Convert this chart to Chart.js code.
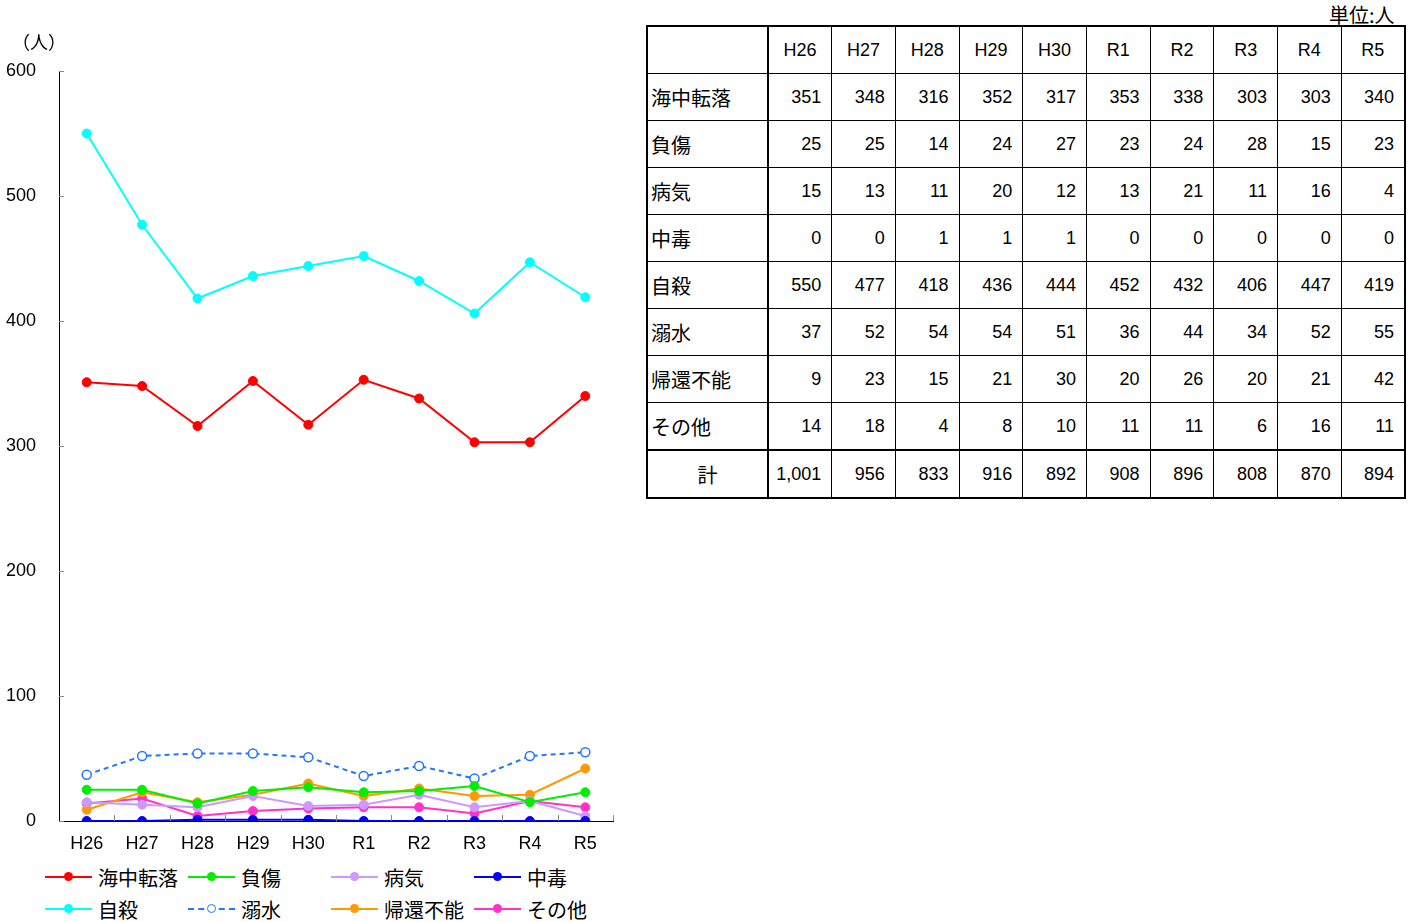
<!DOCTYPE html>
<html>
<head>
<meta charset="utf-8">
<script src="https://cdn.jsdelivr.net/npm/chart.js@4/dist/chart.umd.min.js"></script>
<style>
  body { margin: 0; background: #fff; font-family: "Liberation Sans", Arial, sans-serif; }
  #wrap { position: relative; width: 1415px; height: 922px; overflow: hidden; }
  #chartBox { position: absolute; left: 0; top: 0; width: 640px; height: 860px; }
  #unitY { position: absolute; left: 12px; top: 28px; font: 18px "Noto Sans CJK JP", sans-serif; }
  #unitT { position: absolute; left: 1329px; top: 0px; font: 20px "Noto Sans CJK JP", sans-serif; }
  #legend { position: absolute; left: 45px; top: 862px; width: 600px; }
  .lg { position: absolute; height: 30px; display: flex; align-items: center; font: 20px "Noto Sans CJK JP", sans-serif; }
  .lg .sw { position: relative; width: 47px; height: 10px; margin-right: 6px; }
  .lg .ln { position: absolute; left: 0; right: 0; top: 4px; height: 0; border-top: 2px solid; }
  .lg .dt { position: absolute; left: 19px; top: 0; width: 9px; height: 9px; border-radius: 50%; box-sizing: border-box; }
  table { position: absolute; left: 646px; top: 25px; width: 760px; table-layout: fixed; border-collapse: collapse; border: 2px solid #000; }
  td { border: 1px solid #000; height: 46px; padding: 0; font: 18px "Liberation Sans", Arial, sans-serif; text-align: right; padding-right: 10px; }
  td.h { text-align: center; padding-right: 0; }
  td.n { text-align: left; padding-left: 3px; padding-right: 0; border-right: 2px solid #000; font: 20px "Noto Sans CJK JP", sans-serif; }
  tr.tot td { border-top: 2px solid #000; }
  tr.tot td.n { text-align: center; padding-left: 0; }
</style>
</head>
<body>
<div id="wrap">
  <div id="chartBox"><canvas id="c"></canvas></div>
  <div id="unitY">（人）</div>
  <div id="unitT">単位:人</div>
  <div id="legend"></div>
  <table id="tbl"></table>
</div>
<script>
// years on the x axis and in the table header
const years = ['H26', 'H27', 'H28', 'H29', 'H30', 'R1', 'R2', 'R3', 'R4', 'R5'];

const kaichuTenraku = [351, 348, 316, 352, 317, 353, 338, 303, 303, 340];
const fusho = [25, 25, 14, 24, 27, 23, 24, 28, 15, 23];
const byoki = [15, 13, 11, 20, 12, 13, 21, 11, 16, 4];
const chudoku = [0, 0, 1, 1, 1, 0, 0, 0, 0, 0];
const jisatsu = [550, 477, 418, 436, 444, 452, 432, 406, 447, 419];
const dekisui = [37, 52, 54, 54, 51, 36, 44, 34, 52, 55];
const kikanFuno = [9, 23, 15, 21, 30, 20, 26, 20, 21, 42];
const sonota = [14, 18, 4, 8, 10, 11, 11, 6, 16, 11];
const totals = ['1,001', '956', '833', '916', '892', '908', '896', '808', '870', '894'];

const yTicks = [0, 100, 200, 300, 400, 500, 600];

const series = [
  { label: '海中転落', data: kaichuTenraku, color: '#ff0000' },
  { label: '負傷', data: fusho, color: '#00ee00' },
  { label: '病気', data: byoki, color: '#cc99ff' },
  { label: '中毒', data: chudoku, color: '#0000ff', top: true },
  { label: '自殺', data: jisatsu, color: '#00ffff' },
  { label: '溺水', data: dekisui, color: '#2277ff', dashed: true },
  { label: '帰還不能', data: kikanFuno, color: '#ff9900' },
  { label: 'その他', data: sonota, color: '#ff33cc' }
];

// small inner tick marks like the original (y ticks point right, x ticks point up)
const innerTicks = {
  id: 'innerTicks',
  afterDraw(chart) {
    const { ctx, scales: { x, y } } = chart;
    ctx.save();
    ctx.strokeStyle = '#888';
    ctx.lineWidth = 1;
    ctx.beginPath();
    yTicks.forEach(v => {
      const py = Math.round(y.getPixelForValue(v)) + 0.5;
      ctx.moveTo(x.left, py);
      ctx.lineTo(x.left + 5, py);
    });
    for (let i = 0; i < years.length; i++) {
      const px = Math.round(x.getPixelForValue(i) + (x.getPixelForValue(1) - x.getPixelForValue(0)) / 2) + 0.5;
      ctx.moveTo(px, y.bottom);
      ctx.lineTo(px, y.bottom - 6);
    }
    ctx.stroke();
    ctx.restore();
  }
};

new Chart(document.getElementById('c'), {
  type: 'line',
  data: {
    labels: years,
    datasets: series.map(s => ({
      label: s.label,
      data: s.data,
      order: s.top ? -1 : 0,
      borderColor: s.color,
      backgroundColor: s.dashed ? '#ffffff' : s.color,
      pointBorderColor: s.color,
      pointBackgroundColor: s.dashed ? '#ffffff' : s.color,
      borderWidth: 2,
      borderDash: s.dashed ? [5, 4] : [],
      pointRadius: 4.5,
      pointBorderWidth: s.dashed ? 1.5 : 1,
      tension: 0
    }))
  },
  options: {
    responsive: true,
    maintainAspectRatio: false,
    animation: false,
    layout: { padding: { top: 71, right: 27, left: 0, bottom: 0 } },
    plugins: { legend: { display: false }, tooltip: { enabled: false } },
    scales: {
      x: {
        offset: true,
        grid: { drawOnChartArea: false, drawTicks: false },
        border: { display: true, color: '#000', width: 1 },
        ticks: { color: '#000', font: { family: 'Liberation Sans', size: 18 }, padding: 12, maxRotation: 0 },
        afterFit(s) { s.height = 39; }
      },
      y: {
        min: 0,
        max: 600,
        grid: { drawOnChartArea: false, drawTicks: false },
        border: { display: true, color: '#000', width: 1 },
        afterBuildTicks(s) { s.ticks = yTicks.map(v => ({ value: v })); },
        ticks: { color: '#000', font: { family: 'Liberation Sans', size: 18 }, padding: 23 },
        afterFit(s) { s.width = 59; }
      }
    }
  },
  plugins: [innerTicks]
});

// legend built from the series list
const legend = document.getElementById('legend');
series.forEach((s, i) => {
  const item = document.createElement('div');
  item.className = 'lg';
  item.style.left = (i % 4) * 143 + 'px';
  item.style.top = Math.floor(i / 4) * 32 + 'px';
  const dot = s.dashed
    ? `border:1.5px solid ${s.color};background:#fff;`
    : `background:${s.color};`;
  item.innerHTML = `<span class="sw"><span class="ln" style="border-top-color:${s.color};border-top-style:${s.dashed ? 'dashed' : 'solid'}"></span><span class="dt" style="${dot}"></span></span>${s.label}`;
  legend.appendChild(item);
});

// data table
const tbl = document.getElementById('tbl');
let html = '<colgroup><col style="width:121px">' + years.map(() => '<col>').join('') + '</colgroup>';
html += '<tr><td class="n"></td>' + years.map(y => `<td class="h">${y}</td>`).join('') + '</tr>';
series.forEach(s => {
  html += `<tr><td class="n">${s.label}</td>` + s.data.map(v => `<td>${v}</td>`).join('') + '</tr>';
});
html += '<tr class="tot"><td class="n">計</td>' + totals.map(v => `<td>${v}</td>`).join('') + '</tr>';
tbl.innerHTML = html;
</script>
</body>
</html>
